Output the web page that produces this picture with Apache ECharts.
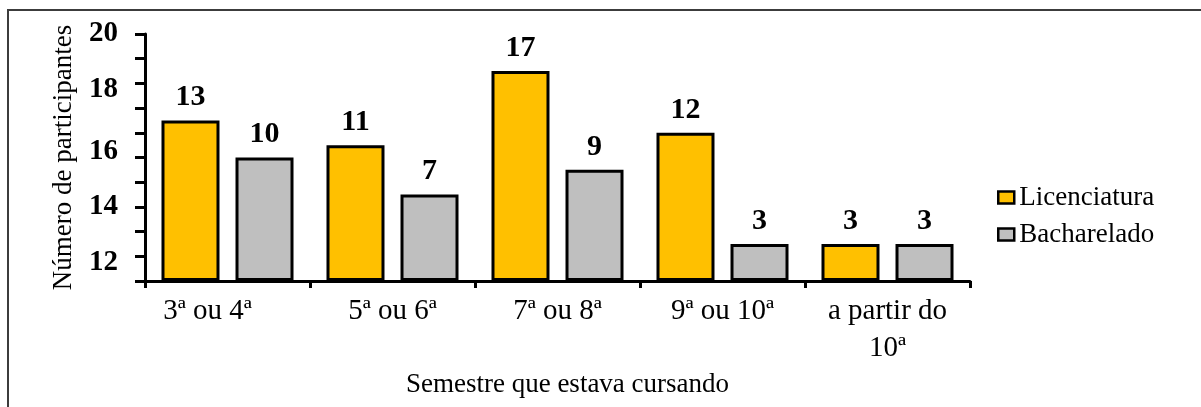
<!DOCTYPE html>
<html>
<head>
<meta charset="utf-8">
<script src="https://cdn.jsdelivr.net/npm/echarts@6/dist/echarts.min.js"></script>
<style>html,body{margin:0;padding:0;background:#fff;}#c{width:1201px;height:407px;}</style>
</head>
<body>
<div id="c"></div>
<script>
var categories = ['3ª ou 4ª', '5ª ou 6ª', '7ª ou 8ª', '9ª ou 10ª', 'a partir do\n10ª'];
var licenciatura = [13, 11, 17, 12, 3];
var bacharelado = [10, 7, 9, 3, 3];
var tickLabels = ['12', '14', '16', '18', '20'];
var tickLabelValues = [1.5, 6, 10.5, 15.5, 20];

var FONT = 'Liberation Serif';
var chart = echarts.init(document.getElementById('c'), null, {renderer: 'canvas'});
function barSeries(name, data, color) {
  return {
    name: name, type: 'bar', data: data, barWidth: 58, barGap: '27.6%',
    itemStyle: {color: color, borderColor: '#000', borderWidth: 3},
    label: {show: true, position: 'top', distance: 8, color: '#000', fontFamily: FONT, fontWeight: 'bold', fontSize: 30},
    animation: false
  };
}
var categoryData = categories.map(function (c, i) {
  return i === 0 ? {value: c, textStyle: {padding: [0, 40, 0, 0]}} : c;
});
chart.setOption({
  animation: false,
  graphic: [{type: 'rect', shape: {x: 8, y: 10, width: 1400, height: 600}, style: {fill: 'none', stroke: '#3c3c3c', lineWidth: 2}, z: -1}],
  grid: {left: 145, right: 231, top: 34, bottom: 126, containLabel: false},
  legend: {
    orient: 'vertical', left: 992, top: 179, itemWidth: 16, itemHeight: 12, itemGap: 10,
    icon: 'rect',
    itemStyle: {borderWidth: 2.5, borderColor: '#000'},
    textStyle: {fontFamily: FONT, fontSize: 27, color: '#000'},
    data: ['Licenciatura', 'Bacharelado']
  },
  xAxis: {
    type: 'category', data: categoryData,
    name: 'Semestre que estava cursando', nameLocation: 'middle', nameGap: 87,
    nameTextStyle: {fontFamily: FONT, fontSize: 27, color: '#000', padding: [0, 0, 0, 20]},
    axisLine: {lineStyle: {color: '#000', width: 3}},
    axisTick: {show: true, length: 7, lineStyle: {color: '#000', width: 3}},
    axisLabel: {fontFamily: FONT, fontSize: 29, color: '#000', margin: 12, lineHeight: 37, interval: 0}
  },
  yAxis: [{
    type: 'value', min: 0, max: 20, interval: 2, position: 'left',
    name: 'Número de participantes', nameLocation: 'middle', nameGap: 68, nameRotate: 90,
    nameTextStyle: {fontFamily: FONT, fontSize: 27, color: '#000'},
    axisLine: {show: true, lineStyle: {color: '#000', width: 3}},
    axisTick: {show: true, length: 10, lineStyle: {color: '#000', width: 3}},
    axisLabel: {show: false},
    splitLine: {show: false}
  }, {
    type: 'value', min: 0, max: 20, interval: 0.5, position: 'left',
    axisLine: {show: false}, axisTick: {show: false}, splitLine: {show: false},
    axisLabel: {
      margin: 27, fontFamily: FONT, fontSize: 29, fontWeight: 'bold', color: '#000',
      formatter: function (v) {
        for (var i = 0; i < tickLabelValues.length; i++) {
          if (Math.abs(v - tickLabelValues[i]) < 1e-6) return tickLabels[i];
        }
        return '';
      }
    }
  }],
  series: [barSeries('Licenciatura', licenciatura, '#FFC000'), barSeries('Bacharelado', bacharelado, '#BFBFBF')]
});
</script>
</body>
</html>
